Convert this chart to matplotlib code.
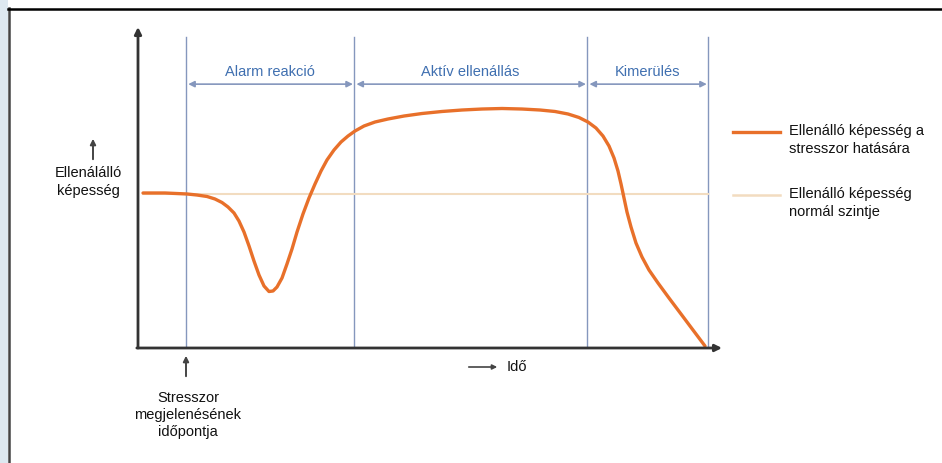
import numpy as np
import matplotlib
matplotlib.use("Agg")
from matplotlib import pyplot as plt
from matplotlib.lines import Line2D
from matplotlib.patches import Rectangle, FancyArrowPatch

plt.rcParams['font.family'] = ['Liberation Sans', 'DejaVu Sans']

# time (0-100) and resistance (0-100)
ido = [0.86, 4.62, 8.39, 10.10, 11.82, 13.18, 14.38, 15.41, 16.44, 17.29,
       18.15, 19.01, 19.86, 20.72, 21.58, 22.43, 23.12, 23.80, 24.66, 25.51,
       26.37, 27.23, 28.25, 29.28, 30.31, 31.34, 32.36, 33.56, 34.76, 35.96,
       37.16, 38.70, 40.58, 42.81, 45.55, 48.63, 52.05, 55.48, 58.90, 62.33,
       65.75, 68.84, 71.40, 73.63, 75.51, 77.05, 78.42, 79.62, 80.65, 81.51,
       82.19, 82.71, 83.22, 83.73, 84.42, 85.27, 86.30, 87.50, 89.04, 90.92,
       92.98, 95.03, 97.09]
kepesseg = [48.29, 48.29, 47.98, 47.66, 47.20, 46.42, 45.33, 43.93, 42.06,
            39.56, 36.14, 31.78, 27.10, 22.74, 19.31, 17.60, 17.76, 19.00,
            21.81, 26.17, 30.84, 36.14, 41.74, 46.73, 51.09, 55.14, 58.57,
            61.68, 64.17, 66.04, 67.60, 69.16, 70.40, 71.34, 72.27, 73.05,
            73.68, 74.14, 74.45, 74.61, 74.45, 74.14, 73.68, 72.90, 71.81,
            70.40, 68.54, 66.04, 62.93, 59.19, 55.14, 51.09, 46.73, 42.37,
            37.69, 32.71, 28.35, 24.30, 20.25, 15.58, 10.59, 5.61, 0.62]
normal_szint = 48.0
normal_t = [0.9, 97.6]

fazis_hatar = [8.2, 37.0, 76.9, 97.6]
fazis_nevek = ["Alarm reakció", "Aktív ellenállás", "Kimerülés"]

orange = "#e8702a"
beige = "#f2dcc0"
blue_txt = "#3f6fb0"
blue_ln = "#8597bd"
dark = "#333333"
txt = "#111111"

W, H = 942, 464
fig = plt.figure(figsize=(W / 100, H / 100), dpi=100)
fig.patch.set_facecolor("white")

def fx(px):
    return px / W

def fy(py):
    return 1 - py / H

# page frame: light strip on the left, dark lines at left and top
fig.add_artist(Rectangle((0, 0), fx(8), 1, transform=fig.transFigure,
                         facecolor="#dde8f0", edgecolor="none"))
fig.add_artist(Line2D([fx(8.5), fx(8.5)], [0, fy(9)], transform=fig.transFigure,
                      color="#444444", lw=1.8))
fig.add_artist(Line2D([fx(8), 1], [fy(9.5), fy(9.5)], transform=fig.transFigure,
                      color="black", lw=1.8))

ax = fig.add_axes([fx(138), fy(349), fx(722) - fx(138), fy(28) - fy(349)])
ax.set_xlim(0, 100)
ax.set_ylim(0, 100)
for s in ax.spines.values():
    s.set_visible(False)
ax.set_xticks([])
ax.set_yticks([])
ax.patch.set_alpha(0)

# phase lines
for t in fazis_hatar:
    ax.plot([t, t], [0, 96.9], color=blue_ln, lw=1.0, zorder=1)

# phase arrows and labels
for i, nev in enumerate(fazis_nevek):
    a, b = fazis_hatar[i], fazis_hatar[i + 1]
    ax.annotate("", xy=(b - 0.2, 82.2), xytext=(a + 0.4, 82.2),
                arrowprops=dict(arrowstyle="<|-|>", color=blue_ln, lw=1.2,
                                mutation_scale=9, shrinkA=0, shrinkB=0))
    ax.text((a + b) / 2, 86.3, nev, color=blue_txt, fontsize=10.5,
            ha="center", va="center")

# normal level
ax.plot(normal_t, [normal_szint, normal_szint], color=beige, lw=1.5, zorder=2)

# resistance curve
ax.plot(ido, kepesseg, color=orange, lw=2.4, solid_capstyle="round",
        solid_joinstyle="round", zorder=3)

# axes with arrows
ax.annotate("", xy=(0, 100), xytext=(0, 0), annotation_clip=False,
            arrowprops=dict(arrowstyle="-|>", color=dark, lw=2.0,
                            mutation_scale=10, shrinkA=0, shrinkB=0))
ax.annotate("", xy=(100, 0), xytext=(-0.2, 0), annotation_clip=False,
            arrowprops=dict(arrowstyle="-|>", color=dark, lw=2.0,
                            mutation_scale=10, shrinkA=0, shrinkB=0))

# y label with arrow
fig.text(fx(88), fy(182), "Ellenálálló\nképesség", fontsize=10.5, ha="center",
         va="center", linespacing=1.4, color=txt)
fig.add_artist(FancyArrowPatch((fx(93), fy(163)), (fx(93), fy(137)),
                               transform=fig.transFigure, arrowstyle="-|>",
                               color="#444444", lw=1.4, mutation_scale=8))

# stressor arrow and text
fig.add_artist(FancyArrowPatch((fx(186), fy(380)), (fx(186), fy(354)),
                               transform=fig.transFigure, arrowstyle="-|>",
                               color="#444444", lw=1.4, mutation_scale=8))
fig.text(fx(188), fy(415), "Stresszor\nmegjelenésének\nidőpontja", fontsize=10.5,
         ha="center", va="center", linespacing=1.25, color=txt)

# time label
fig.add_artist(FancyArrowPatch((fx(466), fy(368)), (fx(500), fy(368)),
                               transform=fig.transFigure, arrowstyle="-|>",
                               color="#444444", lw=1.2, mutation_scale=7))
fig.text(fx(507), fy(367), "Idő", fontsize=10.5, ha="left", va="center",
         color=txt)

# legend
fig.add_artist(Line2D([fx(733), fx(780)], [fy(133), fy(133)],
                      transform=fig.transFigure, color=orange, lw=2.4))
fig.text(fx(789), fy(124), "Ellenálló képesség a\nstresszor hatására",
         fontsize=10.5, ha="left", va="top", linespacing=1.4, color=txt)
fig.add_artist(Line2D([fx(733), fx(780)], [fy(196), fy(196)],
                      transform=fig.transFigure, color=beige, lw=1.8))
fig.text(fx(789), fy(187), "Ellenálló képesség\nnormál szintje",
         fontsize=10.5, ha="left", va="top", linespacing=1.4, color=txt)

fig.savefig("out.png", dpi=100)
